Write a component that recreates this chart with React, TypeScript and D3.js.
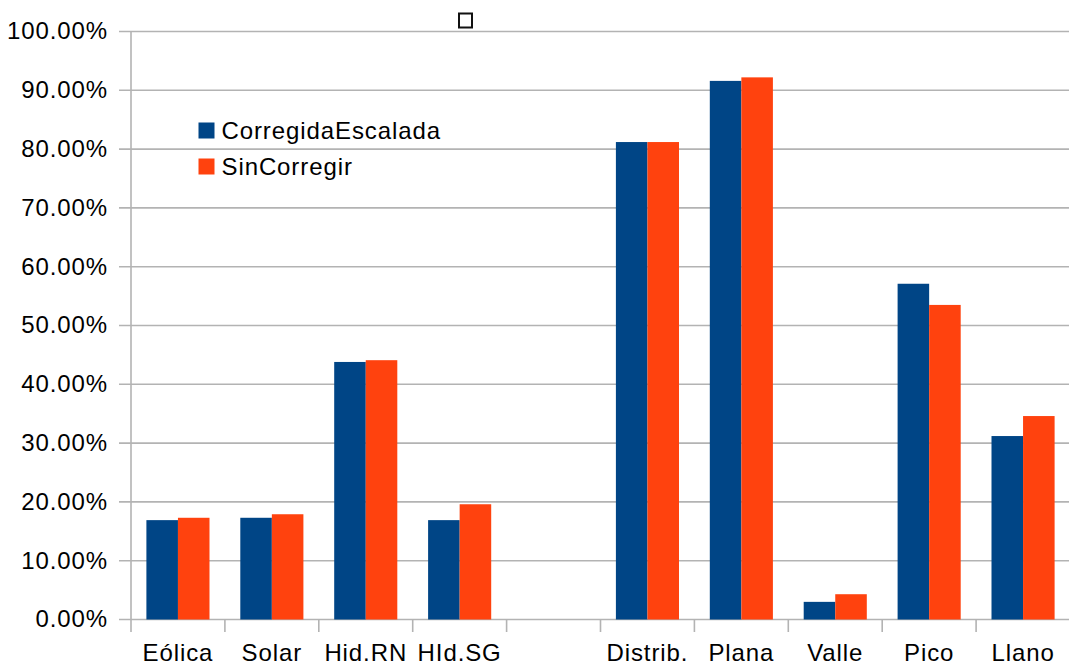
import React from "react";
import * as d3 from "d3";

const categories = ["Eólica", "Solar", "Hid.RN", "HId.SG", "", "Distrib.", "Plana", "Valle", "Pico", "Llano"];
const seriesNames = ["CorregidaEscalada", "SinCorregir"];
const corregidaEscalada = [0.169, 0.173, 0.438, 0.169, null, 0.812, 0.916, 0.030, 0.571, 0.312];
const sinCorregir = [0.173, 0.179, 0.441, 0.196, null, 0.812, 0.922, 0.043, 0.535, 0.346];
const yTicks = [0, 0.1, 0.2, 0.3, 0.4, 0.5, 0.6, 0.7, 0.8, 0.9, 1.0];
const colors = ["#004586", "#ff420e"];

const W = 1069;
const H = 665;
const plotLeft = 131;
const plotRight = 1070;
const plotTop = 31.5;
const plotBottom = 619.5;
const FONT = "'Liberation Sans', Arial, sans-serif";

export default function App() {
  const x = d3.scaleBand<string>().domain(categories.map((c, i) => i + "")).range([plotLeft, plotRight]).paddingInner(0).paddingOuter(0);
  const y = d3.scaleLinear().domain([0, 1]).range([plotBottom, plotTop]);
  const step = x.step();
  const barW = step * 0.336;
  const sub = d3.scaleBand<string>().domain(["0", "1"]).range([0, barW * 2]);
  const fmt = d3.format(".2%");
  const series = [corregidaEscalada, sinCorregir];

  return (
    <svg width={W} height={H} style={{ position: "absolute", left: 0, top: 0, background: "#fff" }} fontFamily={FONT}>
      {/* gridlines */}
      {yTicks.map((t) => (
        <line key={"g" + t} x1={119} x2={W} y1={y(t)} y2={y(t)} stroke="#b3b3b3" strokeWidth={1.6} />
      ))}
      {/* y axis line */}
      <line x1={plotLeft} x2={plotLeft} y1={plotTop} y2={632} stroke="#b3b3b3" strokeWidth={1.6} />
      {/* x ticks */}
      {categories.map((c, i) => (
        <line key={"xt" + i} x1={(x(i + "") as number) + step} x2={(x(i + "") as number) + step} y1={plotBottom} y2={632} stroke="#b3b3b3" strokeWidth={1.6} />
      ))}
      {/* bars */}
      {series.map((vals, s) =>
        vals.map((v, i) =>
          v == null ? null : (
            <rect
              key={"b" + s + "-" + i}
              x={(x(i + "") as number) + (step - barW * 2) / 2 + (sub(s + "") as number)}
              y={y(v)}
              width={barW}
              height={y(0) - y(v)}
              fill={colors[s]}
            />
          )
        )
      )}
      {/* y labels */}
      {yTicks.map((t) => (
        <text key={"yl" + t} x={108} y={y(t)} dy="0.33em" textAnchor="end" fontSize={24} letterSpacing={0.9} fill="#000">
          {fmt(t)}
        </text>
      ))}
      {/* x labels */}
      {categories.map((c, i) => (
        <text key={"xl" + i} x={(x(i + "") as number) + step / 2} y={661} textAnchor="middle" fontSize={24} letterSpacing={0.9} fill="#000">
          {c}
        </text>
      ))}
      {/* legend */}
      {seriesNames.map((n, s) => (
        <g key={"lg" + s} transform={`translate(198.5, ${122.5 + s * 36})`}>
          <rect x={0} y={0} width={16} height={16} fill={colors[s]} />
          <text x={23} y={16.5} fontSize={24} letterSpacing={0.9} fill="#000">{n}</text>
        </g>
      ))}
      {/* small box glyph near top */}
      <rect x={459} y={13.5} width={13} height={14} fill="none" stroke="#111" strokeWidth={2} />
    </svg>
  );
}
